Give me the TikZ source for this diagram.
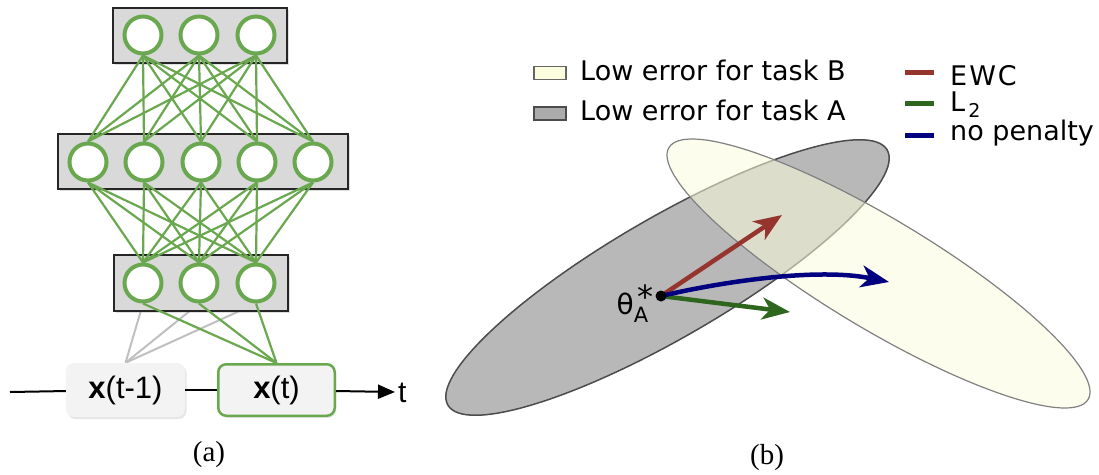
\documentclass[tikz,border=0pt]{standalone}
\usepackage{fontspec}
\usetikzlibrary{arrows.meta,shadows}
\newfontfamily\legfont{DejaVu Sans}
\newfontfamily\arialfont{Liberation Sans}
\newfontfamily\timesfont{Liberation Serif}
\definecolor{NetGreen}{RGB}{106,168,79}
\definecolor{BoxGray}{RGB}{217,217,217}
\definecolor{InGray}{RGB}{243,243,243}
\definecolor{TaskA}{RGB}{184,184,184}
\definecolor{TaskB}{RGB}{252,252,222}
\definecolor{EwcRed}{RGB}{150,52,46}
\definecolor{LtwoGreen}{RGB}{46,102,30}
\definecolor{FreeBlue}{RGB}{0,0,128}
\pgfdeclarelayer{background}
\pgfsetlayers{background,main}

\begin{document}
\begin{tikzpicture}[x=1pt, y=-1pt,
        layer/.style={draw=black!85, line width=1.5pt, fill=BoxGray, inner sep=0pt,
            drop shadow={shadow xshift=2pt, shadow yshift=-2pt, opacity=0.25}},
        unit/.style={circle, draw=NetGreen, line width=4pt, fill=white, minimum size=37pt, inner sep=0pt},
        wgt/.style={NetGreen, line width=2.2pt},
        oldwgt/.style={black!25, line width=2pt},
        inbox/.style={rounded corners=8pt, minimum width=119pt, minimum height=54pt, fill=InGray, inner sep=0pt,
            font=\arialfont\fontsize{31}{36}\selectfont,
            drop shadow={shadow xshift=1.5pt, shadow yshift=-2pt, opacity=0.2}},
        timeline/.style={black, line width=2pt},
        caption/.style={font=\timesfont\fontsize{29}{34}\selectfont, inner sep=0pt},
        legtext/.style={anchor=base west, inner sep=0pt, font=\legfont\fontsize{27}{32}\selectfont},
        legbox/.style={minimum width=32pt, minimum height=13pt, inner sep=0pt, line width=1.2pt},
        keyline/.style={minimum width=29pt, minimum height=5pt, inner sep=0pt},
        move/.style={line width=4.5pt, -{Stealth[length=28pt, width=22pt, inset=8pt]}}
    ]
    \useasboundingbox (0,0) rectangle (1099,474);

    % (a) network over time
    \node[layer, minimum width=174pt, minimum height=55pt] (toplayer) at (200,35.5) {};
    \node[layer, minimum width=290pt, minimum height=55pt] (midlayer) at (203,161.5) {};
    \node[layer, minimum width=174pt, minimum height=56pt] (botlayer) at (201,283) {};

    \foreach \i/\x in {1/143,2/199,3/256}
        \node[unit] (t\i) at (\x,35) {};
    \foreach \i/\x in {1/88,2/144,3/201,4/257,5/313}
        \node[unit] (m\i) at (\x,162) {};
    \foreach \i/\x in {1/143,2/199,3/256}
        \node[unit] (b\i) at (\x,283) {};

    \node[inbox] (xprev) at (125.5,390) {\textbf{x}(t-1)};
    \node[inbox, draw=NetGreen, line width=2.5pt, minimum width=116.5pt, minimum height=51.5pt] (xcur) at (276.5,390) {\textbf{x}(t)};

    \foreach \i in {1,2,3}
        \foreach \j in {1,...,5}
            \draw[wgt] (t\i.south) -- (m\j.north);
    \foreach \j in {1,...,5}
        \foreach \i in {1,2,3}
            \draw[wgt] (m\j.south) -- (b\i.north);
    \foreach \i in {1,2,3}
        \draw[wgt] (b\i.south) -- (xcur.north);
    \begin{pgfonlayer}{background}
        \foreach \i in {1,2,3}
            \draw[oldwgt] (b\i.south) -- (xprev.north);
    \end{pgfonlayer}

    \coordinate (tstart) at (10,392);
    \coordinate (tend) at (395,392);
    \draw[timeline] (tstart) -- (xprev);
    \draw[timeline] (xprev) -- (xcur);
    \draw[timeline, -{Triangle[length=17pt, width=14pt]}] (xcur) -- (tend);
    \node[anchor=base west, inner sep=0pt, font=\arialfont\fontsize{30}{34}\selectfont] (tlab) at (398,402) {t};

    \node[caption] (capa) at (209,455) {(a)};

    % (b) parameter space
    \draw[draw=black!70, line width=1.5pt, fill=TaskA, rotate around={30.15:(667.5,277.5)}]
        (667.5,277.5) ellipse [x radius=254, y radius=60];
    \draw[draw=black!50, line width=1.2pt, fill=TaskB, fill opacity=0.55, rotate around={-31:(878.5,273.5)}]
        (878.5,273.5) ellipse [x radius=244.5, y radius=55];

    \coordinate (theta) at (661,296);
    \coordinate (ewctip) at (782,215);
    \coordinate (l2tip) at (790,312);
    \coordinate (freetip) at (889,282);
    \draw[move, EwcRed] (theta) -- (ewctip);
    \draw[move, LtwoGreen] (theta) -- (l2tip);
    \draw[move, FreeBlue] (theta) .. controls (730,280) and (820,268) .. (freetip);
    \node[circle, fill=black, inner sep=0pt, minimum size=11pt] (thetadot) at (theta) {};
    \node[anchor=base east, inner sep=0pt, font=\legfont\fontsize{28}{32}\selectfont] (thetalab) at (654,314)
        {θ\makebox[0pt][l]{\raisebox{-8pt}{\fontsize{21}{24}\selectfont A}}\kern4pt\raisebox{6pt}{\fontsize{32}{34}\selectfont *}};

    % legend
    \node[legbox, draw=black!60, fill=TaskB] (keyB) at (550,73) {};
    \node[legbox, draw=black!70, fill=black!33] (keyA) at (550,113.5) {};
    \node[legtext] (txtB) at (580,80) {Low error for task B};
    \node[legtext] (txtA) at (580,120) {Low error for task A};

    \node[keyline, fill=EwcRed] (keyewc) at (919.5,72) {};
    \node[keyline, fill=LtwoGreen] (keyl2) at (919.5,103) {};
    \node[keyline, fill=FreeBlue] (keyfree) at (919.5,135) {};
    \node[legtext] (txtewc) at (950,85) {E\kern2pt W\kern2pt C};
    \node[legtext] (txtl2) at (950,111) {L\kern3pt\raisebox{-6pt}{\fontsize{19}{22}\selectfont 2}};
    \node[legtext] (txtfree) at (950,140) {no penalty};

    \node[caption] (capb) at (767,458) {(b)};
\end{tikzpicture}
\end{document}
